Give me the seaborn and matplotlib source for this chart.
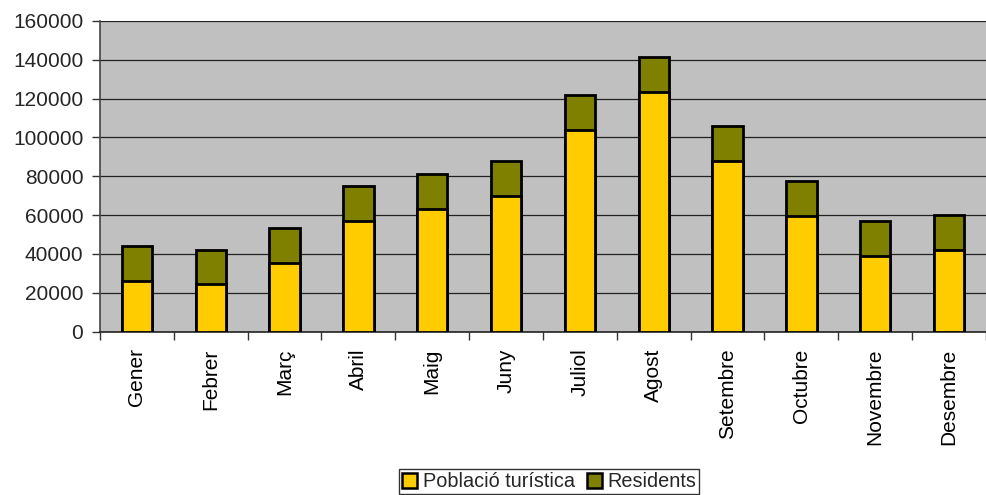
import matplotlib
matplotlib.use("Agg")
import matplotlib.pyplot as plt
import seaborn as sns
import pandas as pd
from matplotlib.patches import Patch
from matplotlib.ticker import FixedLocator

# Dades llegides del gràfic
mesos = ["Gener", "Febrer", "Març", "Abril", "Maig", "Juny",
         "Juliol", "Agost", "Setembre", "Octubre", "Novembre", "Desembre"]
turistica = [26300, 24300, 35500, 56800, 63200, 70000,
             104000, 123200, 88000, 59800, 38800, 42000]
residents = [18000, 18000, 18000, 18000, 18000, 18000,
             18000, 18000, 18000, 18000, 18000, 18000]
yticks = [0, 20000, 40000, 60000, 80000, 100000, 120000, 140000, 160000]

groc = "#FFCC00"
oliva = "#808000"

sns.set_style("ticks")
plt.rcParams["font.family"] = ["Liberation Sans", "DejaVu Sans"]

df = pd.DataFrame({"mes": mesos, "turistica": turistica, "residents": residents})
df["total"] = df["turistica"] + df["residents"]

fig = plt.figure(figsize=(9.86, 4.95), dpi=100)
ax = fig.add_axes([0.1014, 0.33, 0.8986, 0.6276])
ax.set_facecolor("#C0C0C0")

# total primer (residents a dalt), després la població turística al davant
sns.barplot(data=df, x="mes", y="total", color=oliva, width=0.41,
            edgecolor="black", linewidth=2.0, saturation=1, ax=ax, zorder=3)
sns.barplot(data=df, x="mes", y="turistica", color=groc, width=0.41,
            edgecolor="black", linewidth=2.0, saturation=1, ax=ax, zorder=4)

ax.set_xlim(-0.5, 11.5)
ax.set_ylim(0, 160000)
ax.set_yticks(yticks)
ax.set_yticklabels([str(v) for v in yticks])
ax.yaxis.grid(True, color="#222222", linewidth=0.9, zorder=0)
ax.set_axisbelow(True)
ax.set_xlabel("")
ax.set_ylabel("")

ax.set_xticks(range(len(mesos)))
ax.set_xticklabels(mesos, rotation=90, ha="center", va="top")
ax.xaxis.set_minor_locator(FixedLocator([i - 0.5 for i in range(len(mesos) + 1)]))
ax.tick_params(axis="x", which="major", length=0, pad=12, labelsize=15, colors="black")
ax.tick_params(axis="x", which="minor", length=6, width=1, color="#333333")
ax.tick_params(axis="y", length=6, width=1, color="#333333", pad=6, labelsize=15)

for side in ["top", "right"]:
    ax.spines[side].set_visible(False)
ax.spines["left"].set_color("#444444")
ax.spines["left"].set_linewidth(1.2)
ax.spines["bottom"].set_color("#222222")
ax.spines["bottom"].set_linewidth(1.2)

handles = [Patch(facecolor=groc, edgecolor="black", linewidth=1.8, label="Població turística"),
           Patch(facecolor=oliva, edgecolor="black", linewidth=1.8, label="Residents")]
leg = fig.legend(handles=handles, loc="upper center", bbox_to_anchor=(0.557, 0.052),
                 ncol=2, frameon=True, fancybox=False, fontsize=14.3,
                 handlelength=0.75, handleheight=0.75, handletextpad=0.3,
                 columnspacing=0.6, borderpad=0.15, borderaxespad=0)
leg.get_frame().set_edgecolor("black")
leg.get_frame().set_linewidth(1.0)

fig.savefig("out.png", dpi=100)
